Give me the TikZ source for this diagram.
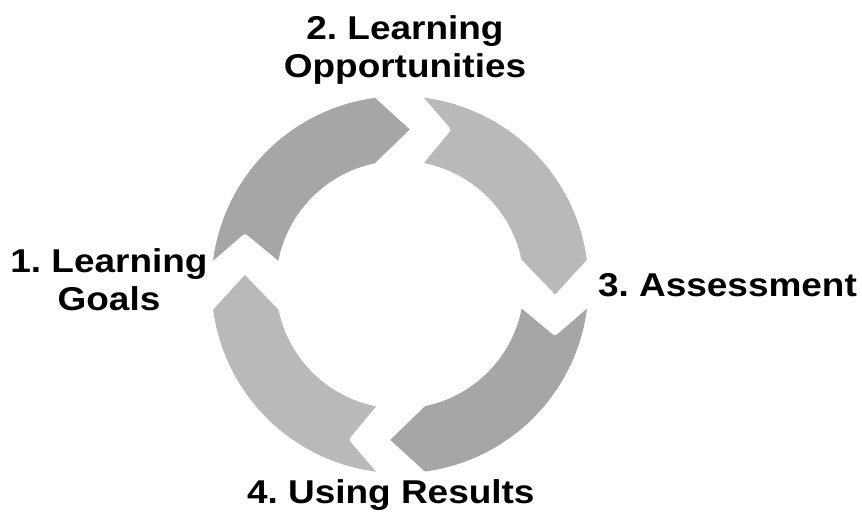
\documentclass[tikz,border=0pt]{standalone}
\usepackage{fontspec}
\setmainfont{Liberation Sans}[FakeStretch=1.12]
\usetikzlibrary{calc}
\frenchspacing

\definecolor{arrowdark}{HTML}{A6A6A6}
\definecolor{arrowlight}{HTML}{B9B9B9}

% One segment of the cycle: a ring band with a notched tail and a pointed head.
% #1 = rotation of the segment (degrees), #2 = fill colour
\newcommand{\cycarrow}[2]{%
  \coordinate (To) at ({172.7+#1}:188.5);
  \coordinate (Tn) at ({161.6+#1}:163.3);
  \coordinate (Ti) at ({168.9+#1}:124);
  \coordinate (Ht) at ({86.4+#1}:155.5);
  \coordinate (Hi) at ({101.7+#1}:124);
  \coordinate (Na) at ($(Tn)!6pt!(To)$);
  \coordinate (Nb) at ($(Tn)!6pt!(Ti)$);
  \fill[#2] (Na) -- (To)
    arc[start angle={172.7+#1}, end angle={97.6+#1}, radius=188.5]
    -- (Ht) -- (Hi)
    arc[start angle={101.7+#1}, end angle={168.9+#1}, radius=124]
    -- (Nb) .. controls (Tn) .. (Na) -- cycle;
}

\tikzset{
  lbl/.style={font=\fontsize{33}{38}\selectfont\bfseries, text=black, inner sep=0pt},
}

\begin{document}
\begin{tikzpicture}[x=1pt, y=1pt]
  \useasboundingbox (0,0) rectangle (862,514);

  \begin{scope}[shift={(400,229.3)}]
    \cycarrow{0}{arrowdark}
    \cycarrow{-90}{arrowlight}
    \cycarrow{-180}{arrowdark}
    \cycarrow{-270}{arrowlight}
  \end{scope}

  % multi-line labels: the base anchor sits on the last line
  \node[lbl, align=center, anchor=base] (goals) at (109,203) {1. Learning\\Goals};
  \node[lbl, align=center, anchor=base] (opps) at (405,436.7) {2. Learning\\Opportunities};
  \node[lbl, anchor=base] (assess) at (727.5,217.3) {3. Assessment};
  \node[lbl, anchor=base] (results) at (390.8,10.7) {4. Using Results};
\end{tikzpicture}
\end{document}
